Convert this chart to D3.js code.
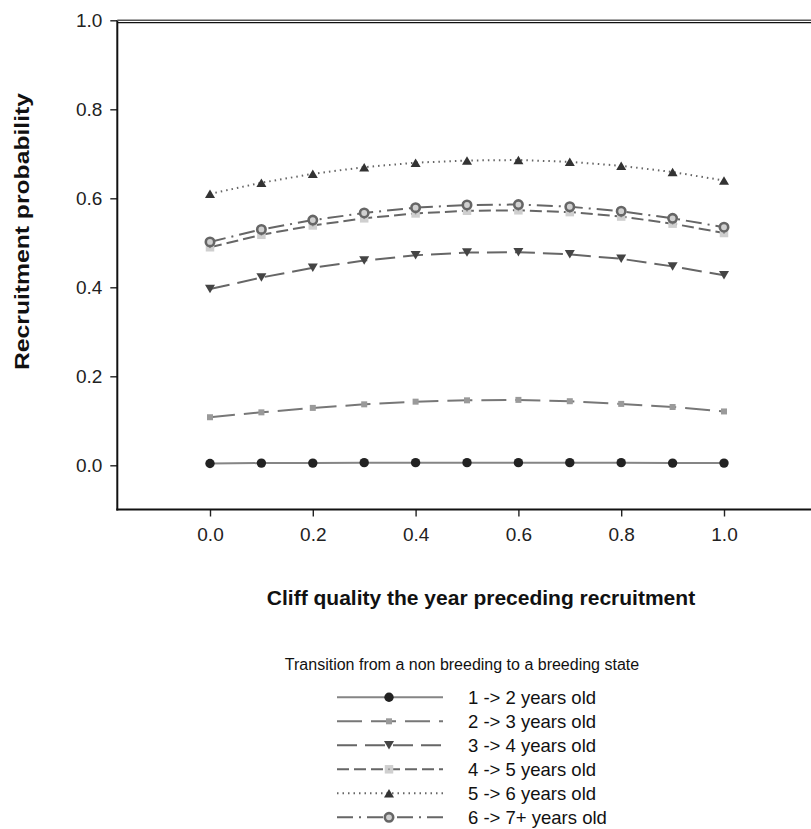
<!DOCTYPE html>
<html>
<head>
<meta charset="utf-8">
<script src="https://cdn.jsdelivr.net/npm/d3@7/dist/d3.min.js"></script>
<style>
  html, body { margin: 0; padding: 0; background: #fff; }
  svg { display: block; font-family: "Liberation Sans", Arial, sans-serif; }
</style>
</head>
<body>
<svg id="chart" width="811" height="829"></svg>
<script>
// ---------- data ----------
const xValues = [0.0, 0.1, 0.2, 0.3, 0.4, 0.5, 0.6, 0.7, 0.8, 0.9, 1.0];
const s1 = [0.004, 0.005, 0.005, 0.006, 0.006, 0.006, 0.006, 0.006, 0.006, 0.005, 0.005];
const s2 = [0.108, 0.119, 0.129, 0.137, 0.143, 0.146, 0.147, 0.144, 0.138, 0.131, 0.121];
const s3 = [0.396, 0.422, 0.444, 0.460, 0.472, 0.478, 0.479, 0.474, 0.464, 0.447, 0.427];
const s4 = [0.490, 0.518, 0.539, 0.555, 0.566, 0.572, 0.573, 0.569, 0.559, 0.543, 0.522];
const s5 = [0.610, 0.635, 0.655, 0.670, 0.680, 0.685, 0.686, 0.682, 0.673, 0.659, 0.640];
const s6 = [0.502, 0.530, 0.551, 0.567, 0.579, 0.585, 0.586, 0.581, 0.571, 0.555, 0.535];
const seriesLabels = ["1 -> 2 years old", "2 -> 3 years old", "3 -> 4 years old",
                      "4 -> 5 years old", "5 -> 6 years old", "6 -> 7+ years old"];
const xTicks = [0.0, 0.2, 0.4, 0.6, 0.8, 1.0];
const yTicks = [0.0, 0.2, 0.4, 0.6, 0.8, 1.0];
const xTitle = "Cliff quality the year preceding recruitment";
const yTitle = "Recruitment probability";
const legendTitle = "Transition from a non breeding to a breeding state";

// ---------- styles ----------
const styles = [
  { values: s1, stroke: "#858585", dash: null,          marker: "circle",  fill: "#222", size: 4.7 },
  { values: s2, stroke: "#777",    dash: "25,9",        marker: "square",  fill: "#9a9a9a", size: 6 },
  { values: s3, stroke: "#666",    dash: "20,8",        marker: "down",    fill: "#444", size: 10 },
  { values: s4, stroke: "#666",    dash: "12,5",        marker: "lsquare", fill: "#cfcfcf", size: 8.5 },
  { values: s5, stroke: "#666",    dash: "1.5,4",       marker: "up",      fill: "#333", size: 10 },
  { values: s6, stroke: "#666",    dash: "16,6,2,6",    marker: "ring",    fill: "#d0d0d0", size: 4.2 }
];

const svg = d3.select("#chart");
const x = d3.scaleLinear().domain([0, 1]).range([210, 724]);
const y = d3.scaleLinear().domain([0, 1]).range([465.3, 20.3]);

const plotLeft = 117.3, plotRight = 811, plotBottom = 509.5, plotTop = 20.3;

// axes
const yAxis = d3.axisLeft(y).tickValues(yTicks).tickFormat(d3.format(".1f")).tickSize(7).tickPadding(8);
const gy = svg.append("g").attr("transform", `translate(${plotLeft},0)`).call(yAxis);
gy.select(".domain").remove();
gy.selectAll(".tick line").attr("stroke", "#222").attr("stroke-width", 1.4);
gy.selectAll(".tick text").attr("font-size", 19).attr("fill", "#222")
  .attr("font-family", "Liberation Sans, Arial, sans-serif");

const xAxis = d3.axisBottom(x).tickValues(xTicks).tickFormat(d3.format(".1f")).tickSize(7).tickPadding(11);
const gx = svg.append("g").attr("transform", `translate(0,${plotBottom})`).call(xAxis);
gx.select(".domain").remove();
gx.selectAll(".tick line").attr("stroke", "#222").attr("stroke-width", 1.4);
gx.selectAll(".tick text").attr("font-size", 19).attr("fill", "#222")
  .attr("font-family", "Liberation Sans, Arial, sans-serif");

// frame lines
svg.append("line").attr("x1", plotLeft).attr("x2", plotLeft).attr("y1", plotTop).attr("y2", plotBottom + 1)
  .attr("stroke", "#111").attr("stroke-width", 2);
svg.append("line").attr("x1", plotLeft - 1).attr("x2", plotRight).attr("y1", plotBottom).attr("y2", plotBottom)
  .attr("stroke", "#111").attr("stroke-width", 2);
svg.append("line").attr("x1", plotLeft).attr("x2", plotRight).attr("y1", plotTop).attr("y2", plotTop)
  .attr("stroke", "#555").attr("stroke-width", 1.4);
svg.append("line").attr("x1", plotLeft).attr("x2", plotRight).attr("y1", plotTop + 2.3).attr("y2", plotTop + 2.3)
  .attr("stroke", "#111").attr("stroke-width", 1.4);

// markers
function drawMarker(g, st, cx, cy, scale) {
  const k = scale || 1;
  const s = st.size * k;
  if (st.marker === "circle") {
    g.append("circle").attr("cx", cx).attr("cy", cy).attr("r", s).attr("fill", st.fill);
  } else if (st.marker === "square") {
    g.append("rect").attr("x", cx - s / 2).attr("y", cy - s / 2).attr("width", s).attr("height", s).attr("fill", st.fill);
  } else if (st.marker === "lsquare") {
    g.append("rect").attr("x", cx - s / 2).attr("y", cy - s / 2).attr("width", s).attr("height", s).attr("fill", st.fill);
    g.append("circle").attr("cx", cx).attr("cy", cy).attr("r", 1).attr("fill", "#999");
  } else if (st.marker === "down") {
    const h = s * 0.85;
    g.append("path").attr("d", `M${cx - s / 2},${cy - h / 2}L${cx + s / 2},${cy - h / 2}L${cx},${cy + h / 2}Z`).attr("fill", st.fill);
  } else if (st.marker === "up") {
    const h = s * 0.85;
    g.append("path").attr("d", `M${cx - s / 2},${cy + h / 2}L${cx + s / 2},${cy + h / 2}L${cx},${cy - h / 2}Z`).attr("fill", st.fill);
  } else if (st.marker === "ring") {
    g.append("circle").attr("cx", cx).attr("cy", cy).attr("r", s).attr("fill", st.fill)
      .attr("stroke", "#666").attr("stroke-width", 2.6);
  }
}

// series
const line = d3.line().x((d, i) => x(xValues[i])).y(d => y(d));
styles.forEach(st => {
  const g = svg.append("g");
  g.append("path").datum(st.values).attr("d", line).attr("fill", "none")
    .attr("stroke", st.stroke).attr("stroke-width", 2)
    .attr("stroke-dasharray", st.dash);
  st.values.forEach((v, i) => drawMarker(g, st, x(xValues[i]), y(v)));
});

// axis titles
svg.append("text").attr("x", 481).attr("y", 605).attr("text-anchor", "middle")
  .attr("font-size", 21).attr("font-weight", "bold").attr("fill", "#111").text(xTitle);
svg.append("text").attr("transform", "translate(29,231.5) rotate(-90)").attr("text-anchor", "middle")
  .attr("font-size", 21).attr("font-weight", "bold").attr("fill", "#111")
  .attr("textLength", 277).attr("lengthAdjust", "spacingAndGlyphs").text(yTitle);

// legend
svg.append("text").attr("x", 462).attr("y", 670).attr("text-anchor", "middle")
  .attr("font-size", 16).attr("fill", "#111").text(legendTitle);
const ly = d3.scaleLinear().domain([0, 5]).range([697.3, 817.3]);
seriesLabels.forEach((lab, i) => {
  const st = styles[i];
  const cy = ly(i);
  const g = svg.append("g");
  g.append("line").attr("x1", 337).attr("x2", 443).attr("y1", cy).attr("y2", cy)
    .attr("stroke", st.stroke).attr("stroke-width", 2).attr("stroke-dasharray", st.dash);
  drawMarker(g, st, 389, cy);
  g.append("text").attr("x", 468).attr("y", cy + 7).attr("font-size", 18.5).attr("fill", "#111").text(lab);
});
</script>
</body>
</html>
